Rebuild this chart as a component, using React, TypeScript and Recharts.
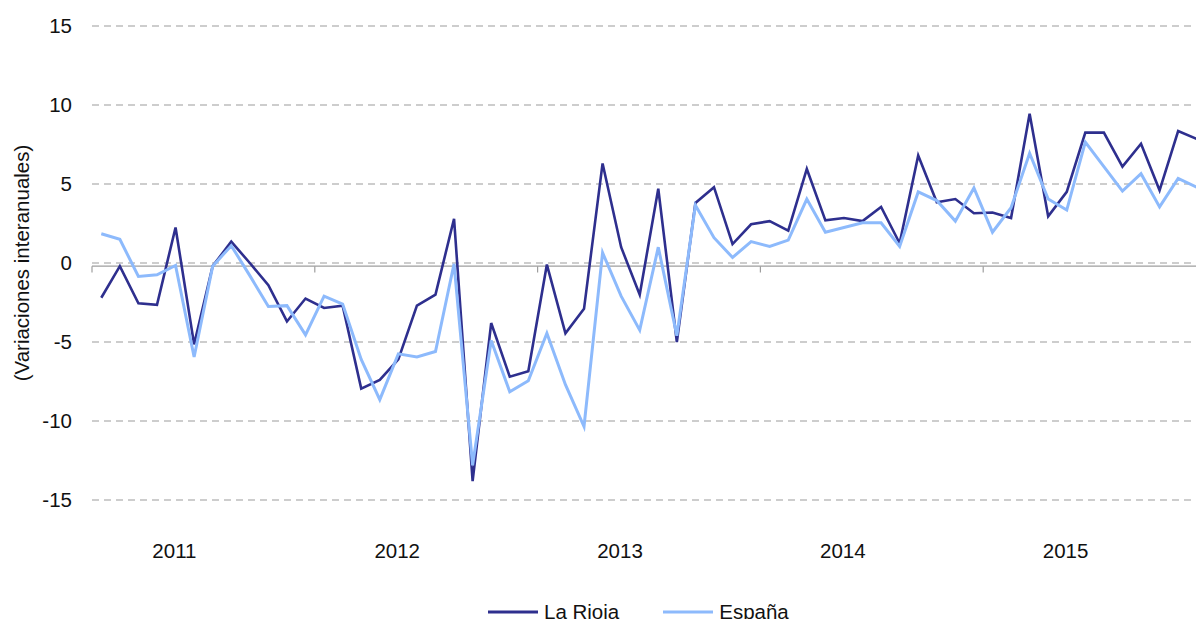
import React from "react";
import {
  LineChart,
  Line,
  XAxis,
  YAxis,
  CartesianGrid,
  ReferenceLine,
  Legend,
} from "recharts";

const FONT = '"Liberation Sans", Arial, Helvetica, sans-serif';
const TEXT = "#111111";

const years = ["2011", "2012", "2013", "2014", "2015"];
const monthNames = ["ene", "feb", "mar", "abr", "may", "jun", "jul", "ago", "sep", "oct", "nov", "dic"];
const months = years.flatMap((y) => monthNames.map((m) => `${m} ${y}`));

const seriesNames = ["La Rioja", "España"];

// variación interanual (%), ene 2011 - dic 2015
const laRioja = [
  -2.2, -0.2, -2.55, -2.65, 2.25, -5.15, -0.2, 1.35, 0.0, -1.4,
  -3.7, -2.25, -2.85, -2.7, -7.95, -7.4, -6.1, -2.7, -2.0, 2.8,
  -13.8, -3.8, -7.2, -6.85, -0.1, -4.45, -2.9, 6.3, 1.0, -2.0,
  4.7, -5.0, 3.8, 4.8, 1.2, 2.45, 2.65, 2.05, 5.95, 2.7,
  2.85, 2.65, 3.55, 1.25, 6.8, 3.85, 4.05, 3.15, 3.2, 2.85,
  9.45, 2.95, 4.5, 8.25, 8.25, 6.1, 7.55, 4.6, 8.35, 7.85,
];

const espana = [
  1.85, 1.5, -0.85, -0.75, -0.15, -5.95, -0.2, 1.1, -0.8, -2.75,
  -2.7, -4.55, -2.1, -2.6, -6.1, -8.65, -5.75, -5.95, -5.6, -0.05,
  -12.8, -4.9, -8.15, -7.45, -4.45, -7.7, -10.35, 0.65, -2.1, -4.25,
  1.0, -4.6, 3.65, 1.6, 0.35, 1.35, 1.05, 1.45, 4.05, 1.95,
  2.25, 2.55, 2.55, 1.05, 4.5, 3.95, 2.65, 4.75, 1.95, 3.5,
  6.95, 4.05, 3.35, 7.65, 6.1, 4.55, 5.65, 3.55, 5.35, 4.8,
];

const yTicks = [-15, -10, -5, 0, 5, 10, 15];
const yearTicks = years.map((_, k) => k * 12 + 6);
const yearBounds = years.map((_, k) => k * 12);

const AXIS_Y = -0.2; // the solid category axis sits just under the 0 gridline

const data = months.map((m, i) => ({
  month: m,
  t: i + 0.5,
  laRioja: laRioja[i],
  espana: espana[i],
}));

function YearTick(props: any) {
  const { x, y, payload } = props;
  const label = years[Math.round((payload.value - 6) / 12)];
  return (
    <text
      x={x}
      y={y}
      dx={-29}
      dy="0.71em"
      textAnchor="middle"
      fill={TEXT}
      fontSize={20.5}
      fontFamily={FONT}
    >
      {label}
    </text>
  );
}

function LegendContent(props: any) {
  const payload = [...(props.payload || [])].sort(
    (a: any, b: any) => seriesNames.indexOf(a.value) - seriesNames.indexOf(b.value)
  );
  return (
    <div
      style={{
        display: "flex",
        alignItems: "center",
        gap: 44,
        fontFamily: FONT,
        fontSize: 20.5,
        color: TEXT,
        lineHeight: "22px",
        height: 22,
      }}
    >
      {payload.map((p: any) => (
        <div key={p.value} style={{ display: "flex", alignItems: "center" }}>
          <svg width={50} height={4} style={{ marginRight: 6 }}>
            <line x1={0} y1={2} x2={50} y2={2} stroke={p.color} strokeWidth={3} />
          </svg>
          <span>{p.value}</span>
        </div>
      ))}
    </div>
  );
}

export default function App() {
  return (
    <div
      style={{
        position: "absolute",
        left: 0,
        top: 0,
        width: 1196,
        height: 619,
        overflow: "hidden",
        fontFamily: FONT,
      }}
    >
      <LineChart
        width={1196}
        height={619}
        data={data}
        margin={{ top: 26, right: -10, bottom: 0, left: 0 }}
      >
        <CartesianGrid
          vertical={false}
          stroke="#bdbdbd"
          strokeWidth={1.5}
          strokeDasharray="7 5"
        />
        <XAxis
          type="number"
          dataKey="t"
          domain={[0, 60]}
          ticks={yearTicks}
          interval={0}
          axisLine={false}
          tickLine={false}
          tickMargin={37}
          height={97}
          tick={<YearTick />}
        />
        <YAxis
          type="number"
          domain={[-15, 15]}
          ticks={yTicks}
          interval={0}
          axisLine={false}
          tickLine={false}
          width={92}
          tickMargin={14}
          tick={{ fill: TEXT, fontSize: 20.5, fontFamily: FONT }}
          label={{
            value: "(Variaciones interanuales)",
            angle: -90,
            position: "insideLeft",
            offset: 22,
            style: { textAnchor: "middle", fontSize: 20.5, fill: TEXT, fontFamily: FONT },
          }}
        />
        <ReferenceLine y={AXIS_Y} stroke="#9e9e9e" strokeWidth={1.2} />
        {yearBounds.map((b) => (
          <ReferenceLine
            key={b}
            segment={[
              { x: b, y: AXIS_Y },
              { x: b, y: AXIS_Y - 0.4 },
            ]}
            stroke="#9e9e9e"
            strokeWidth={1.2}
          />
        ))}
        <Legend
          content={<LegendContent />}
          itemSorter={null as any}
          wrapperStyle={{ position: "absolute", left: 488, top: 601, width: 360, height: 22 }}
        />
        <Line
          type="linear"
          dataKey="laRioja"
          name="La Rioja"
          stroke="#2e2f8e"
          strokeWidth={2.6}
          dot={false}
          activeDot={false}
          isAnimationActive={false}
        />
        <Line
          type="linear"
          dataKey="espana"
          name="España"
          stroke="#8dbafc"
          strokeWidth={3}
          dot={false}
          activeDot={false}
          isAnimationActive={false}
        />
      </LineChart>
    </div>
  );
}
